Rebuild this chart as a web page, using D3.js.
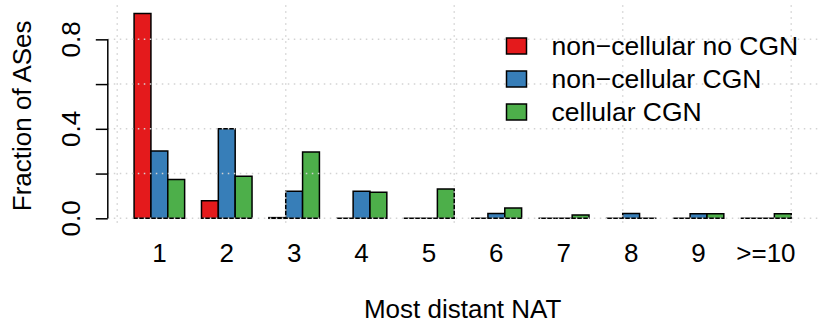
<!DOCTYPE html>
<html>
<head>
<meta charset="utf-8">
<style>
  body { margin: 0; background: #fff; }
  svg { display: block; font-family: "Liberation Sans", Arial, Helvetica, sans-serif; }
</style>
</head>
<body>
<script src="https://d3js.org/d3.v7.min.js"></script>
<div id="chart"></div>
<script>
    const width = 822
    const height = 329

    // data
    const categories = ["1", "2", "3", "4", "5", "6", "7", "8", "9", ">=10"]
    const seriesNames = ["non\u2212cellular no CGN", "non\u2212cellular CGN", "cellular CGN"]
    const nonCellularNoCgn = [0.916, 0.079, 0.003, 0, 0, 0, 0, 0, 0, 0]
    const nonCellularCgn = [0.301, 0.400, 0.121, 0.121, 0, 0.022, 0, 0.022, 0.020, 0]
    const cellularCgn = [0.174, 0.188, 0.296, 0.116, 0.131, 0.046, 0.015, 0, 0.020, 0.020]
    const yTicks = [0, 0.2, 0.4, 0.6, 0.8]
    const yTickLabels = [0, 0.4, 0.8]
    const gridX = [0, 10, 20, 30, 40]
    const colors = ["#E41A1C", "#377EB8", "#4DAF4A"]

    const series = [nonCellularNoCgn, nonCellularCgn, cellularCgn]

    // barplot style layout: each group = 3 bars + 1 bar of space, 1 unit per bar
    const nBars = series.length
    const groupUnits = nBars + 1
    const totalUnits = categories.length * groupUnits
    const xPad = (totalUnits - 1) * 0.04
    const yMax = d3.max(series.flat())
    const yPad = yMax * 0.04

    const plot = { left: 107.8, right: 817.5, top: 5.2, bottom: 226.5 }

    const x = d3.scaleLinear()
        .domain([1 - xPad, totalUnits + xPad])
        .range([plot.left, plot.right])

    const y = d3.scaleLinear()
        .domain([-yPad, yMax + yPad])
        .range([plot.bottom, plot.top])

    const svg = d3.select("#chart").append("svg")
        .attr("width", width).attr("height", height)

    // bars (paths so zero-height bars still show their border)
    const bars = []
    categories.forEach((c, i) => {
        series.forEach((s, j) => {
            const start = 1 + i * groupUnits + j
            bars.push({ x0: start, x1: start + 1, v: s[i], color: colors[j] })
        })
    })

    svg.append("g").selectAll("path")
        .data(bars)
        .enter()
        .append("path")
        .attr("d", d => {
            const p = d3.path()
            p.moveTo(x(d.x0), y(0))
            p.lineTo(x(d.x0), y(d.v))
            p.lineTo(x(d.x1), y(d.v))
            p.lineTo(x(d.x1), y(0))
            p.closePath()
            return p.toString()
        })
        .attr("fill", d => d.color)
        .attr("stroke", "#000")
        .attr("stroke-width", 1.5)
        .attr("stroke-linejoin", "miter")

    // grid drawn over the bars (dotted light gray)
    const grid = svg.append("g")
        .attr("stroke", "#d3d3d3")
        .attr("stroke-width", 1.5)
        .attr("stroke-dasharray", "1.5,4.5")

    grid.selectAll("line.gx")
        .data(gridX)
        .enter()
        .append("line")
        .attr("class", "gx")
        .attr("x1", d => x(d)).attr("x2", d => x(d))
        .attr("y1", plot.top).attr("y2", plot.bottom)

    grid.selectAll("line.gy")
        .data(yTicks)
        .enter()
        .append("line")
        .attr("class", "gy")
        .attr("x1", plot.left).attr("x2", plot.right)
        .attr("y1", d => y(d)).attr("y2", d => y(d))

    // y axis
    const yAxis = d3.axisLeft(y)
        .tickValues(yTicks)
        .tickSize(12)
        .tickSizeOuter(0)
        .tickFormat("")

    const yg = svg.append("g")
        .attr("transform", "translate(" + plot.left + ",0)")
        .call(yAxis)
    yg.select(".domain").remove()
    yg.selectAll(".tick line").attr("stroke-width", 1.5)
    yg.append("line")
        .attr("x1", 0).attr("x2", 0)
        .attr("y1", y(yTicks[0])).attr("y2", y(yTicks[yTicks.length - 1]))
        .attr("stroke", "#000").attr("stroke-width", 1.5)

    svg.append("g").selectAll("text")
        .data(yTickLabels)
        .enter()
        .append("text")
        .attr("transform", d => "translate(80," + y(d) + ") rotate(-90)")
        .attr("text-anchor", "middle")
        .attr("font-size", 26)
        .text(d => d.toFixed(1))

    // x category labels
    svg.append("g").selectAll("text")
        .data(categories)
        .enter()
        .append("text")
        .attr("x", (d, i) => x(1 + i * groupUnits + nBars / 2))
        .attr("y", 262)
        .attr("text-anchor", "middle")
        .attr("font-size", 26)
        .text(d => d)

    // axis titles
    svg.append("text")
        .attr("x", (plot.left + plot.right) / 2)
        .attr("y", 318)
        .attr("text-anchor", "middle")
        .attr("font-size", 26)
        .text("Most distant NAT")

    svg.append("text")
        .attr("transform", "translate(31," + (plot.top + plot.bottom) / 2 + ") rotate(-90)")
        .attr("text-anchor", "middle")
        .attr("font-size", 26)
        .text("Fraction of ASes")

    // legend
    const legend = svg.append("g")
        .attr("transform", "translate(506.5,46)")

    const items = legend.selectAll("g")
        .data(seriesNames)
        .enter()
        .append("g")
        .attr("transform", (d, i) => "translate(0," + i * 33 + ")")

    items.append("rect")
        .attr("x", 0).attr("y", -8)
        .attr("width", 20).attr("height", 16)
        .attr("fill", (d, i) => colors[i])
        .attr("stroke", "#000")
        .attr("stroke-width", 1.5)

    items.append("text")
        .attr("x", 45)
        .attr("y", 9)
        .attr("font-size", 26.5)
        .text(d => d)
</script>
</body>
</html>
